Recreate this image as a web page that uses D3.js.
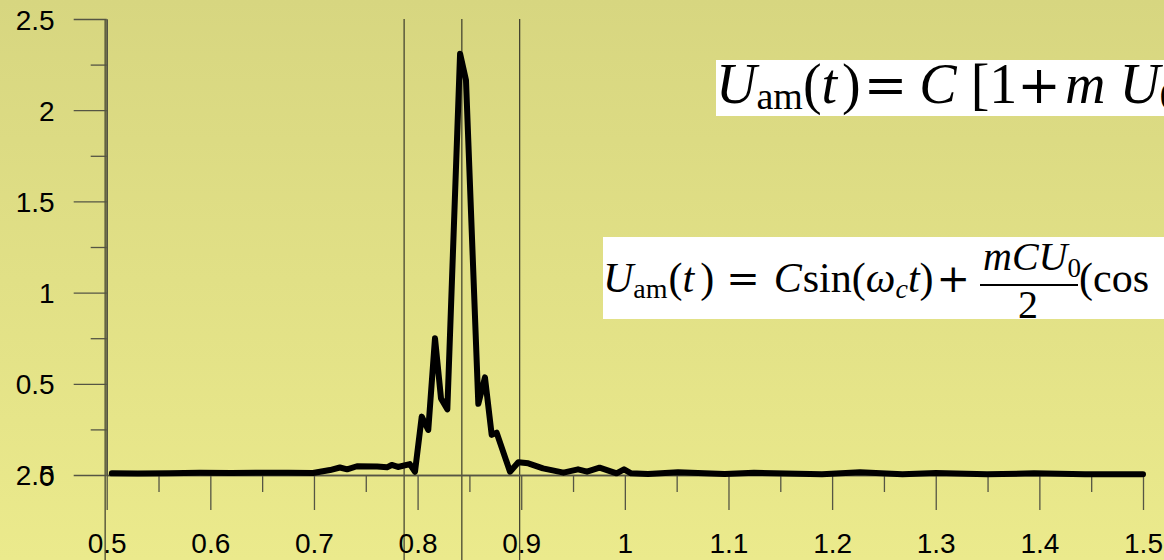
<!DOCTYPE html>
<html>
<head>
<meta charset="utf-8">
<script src="https://cdn.jsdelivr.net/npm/d3@7"></script>
<style>
  html, body { margin: 0; padding: 0; overflow: hidden; }
  .tick text { font-family: "Liberation Sans", Arial, sans-serif; fill: #000; }
  .formula { font-family: "Liberation Serif", "Times New Roman", serif; fill: #000; }
  .op { font-family: "DejaVu Serif", serif; }
</style>
</head>
<body>
<div id="app"></div>
<script>
// Curve samples: t and amplitude
const tValues = [0.505, 0.53, 0.56, 0.59, 0.62, 0.65, 0.675, 0.699, 0.7155, 0.725, 0.732, 0.7415,
  0.761, 0.7705, 0.775, 0.781, 0.7925, 0.7975, 0.804, 0.8103, 0.8168, 0.8226, 0.8287, 0.841,
  0.8467, 0.8586, 0.865, 0.8715, 0.8763, 0.8892, 0.8972, 0.9068, 0.921, 0.9408, 0.9548, 0.9635,
  0.9756, 0.992, 0.9992, 1.006, 1.0223, 1.0513, 1.0963, 1.1246, 1.1902, 1.2269, 1.2679, 1.3002,
  1.3495, 1.3948, 1.444, 1.5];
const ampValues = [0.009, 0.008, 0.01, 0.012, 0.011, 0.013, 0.012, 0.011, 0.027, 0.041, 0.031, 0.048,
  0.046, 0.042, 0.055, 0.044, 0.06, 0.018, 0.32, 0.247, 0.75, 0.42, 0.36, 2.31,
  2.165, 0.39, 0.535, 0.22, 0.232, 0.018, 0.07, 0.064, 0.036, 0.013, 0.031, 0.018,
  0.04, 0.009, 0.031, 0.009, 0.005, 0.015, 0.005, 0.012, 0.004, 0.015, 0.004, 0.011,
  0.004, 0.009, 0.004, 0.004];

// vertical marker lines
const markerLines = [0.4985, 0.787, 0.8427, 0.8985];

const xMajor = [0.5, 0.6, 0.7, 0.8, 0.9, 1, 1.1, 1.2, 1.3, 1.4, 1.5];
const xMinor = [0.55, 0.65, 0.75, 0.85, 0.95, 1.05, 1.15, 1.25, 1.35, 1.45];
const xLabels = ['0.5', '0.6', '0.7', '0.8', '0.9', '1', '1.1', '1.2', '1.3', '1.4', '1.5'];
const yMajor = [0, 0.5, 1, 1.5, 2, 2.5];
const yMinor = [0.25, 0.75, 1.25, 1.75, 2.25];
const yLabels = ['0', '0.5', '1', '1.5', '2', '2.5'];

const width = 1164, height = 560;

const x = d3.scaleLinear().domain([0.5, 1.5]).range([106.7, 1143]);
const y = d3.scaleLinear().domain([0, 2.5]).range([475, 19]);

const svg = d3.select('#app').append('svg')
    .attr('width', width)
    .attr('height', height);

// background gradient
const grad = svg.append('defs').append('linearGradient')
    .attr('id', 'bg')
    .attr('x1', 0).attr('y1', 0).attr('x2', 0).attr('y2', 1);
grad.append('stop').attr('offset', '0%').attr('stop-color', '#d7d680');
grad.append('stop').attr('offset', '100%').attr('stop-color', '#ebea8c');

svg.append('rect')
    .attr('width', width)
    .attr('height', height)
    .attr('fill', 'url(#bg)');

// formula: parts are [text, size, italic, dx, dy, operator]
function formulaText(px, py, parts) {
    const t = svg.append('text').attr('class', 'formula')
        .attr('x', px).attr('y', py);
    parts.forEach(p => {
        t.append('tspan')
            .attr('class', p[5] ? 'op' : null)
            .attr('dx', p[3] || 0)
            .attr('dy', p[4] || 0)
            .style('font-size', p[1] + 'px')
            .style('font-style', p[2] ? 'italic' : 'normal')
            .text(p[0]);
    });
    return t;
}

svg.append('rect')
    .attr('x', 716).attr('y', 60).attr('width', 460).attr('height', 56)
    .attr('fill', '#fff');
formulaText(716, 103, [
    ['U', 56, true], ['am', 38, false, 0, 6], ['(', 56, false, 0, -6],
    ['t', 56, true], [')', 56, false, 5], ['=', 52, false, 3, 0, true],
    ['C', 56, true, 12], ['[', 56, false, 14], ['1', 56, false, 0],
    ['+', 52, false, 0, 0, true], ['m', 56, true, 4], ['U', 56, true, 14],
    ['0', 38, false, 0, 6], ['cos(ω', 56, false, 4, -6], ['m', 38, true, 0, 6],
    ['t)] sin(ω', 56, false, 0, -6]
]);

svg.append('rect')
    .attr('x', 603).attr('y', 237).attr('width', 561).attr('height', 82)
    .attr('fill', '#fff');
formulaText(603, 292, [
    ['U', 42, true], ['am', 28, false, 0, 6], ['(', 42, false, 1, -6],
    ['t', 42, true], [')', 42, false, 6], ['=', 40, false, 12, 0, true],
    ['C', 42, true, 14], ['sin', 42, false, 1], ['(', 42, false, 0],
    ['ω', 42, true], ['c', 28, true, 0, 6], ['t', 42, true, 0, -6],
    [')', 42, false], ['+', 40, false, 3, 0, true]
]);
formulaText(983, 270, [
    ['m', 40, true], ['C', 40, true], ['U', 40, true], ['0', 27, false, 0, 7]
]);
formulaText(1018, 318, [['2', 40, false]]);
formulaText(1079, 292, [['(', 42, false], ['cos', 42, false]]);
svg.append('line')
    .attr('x1', 980).attr('x2', 1078)
    .attr('y1', 285).attr('y2', 285)
    .attr('stroke', '#000').attr('stroke-width', 2);

// vertical marker lines
svg.selectAll('.marker')
    .data(markerLines)
    .enter().append('line')
    .attr('class', 'marker')
    .attr('x1', d => x(d)).attr('x2', d => x(d))
    .attr('y1', 19).attr('y2', height)
    .attr('stroke', '#3a3a2a')
    .attr('stroke-width', 1.2);

// axes
const axisColor = '#555544';

const yAxis = svg.append('g')
    .attr('transform', 'translate(106.7,0)')
    .call(d3.axisLeft(y).tickValues(yMajor).tickSize(33).tickSizeOuter(0)
        .tickPadding(19).tickFormat((d, i) => yLabels[i]));
svg.append('g')
    .attr('transform', 'translate(106.7,0)')
    .call(d3.axisLeft(y).tickValues(yMinor).tickSize(16).tickSizeOuter(0).tickFormat(''));

const xAxis = svg.append('g')
    .attr('transform', 'translate(0,475)')
    .call(d3.axisBottom(x).tickValues(xMajor).tickSize(35).tickSizeOuter(0)
        .tickPadding(23).tickFormat((d, i) => xLabels[i]));
svg.append('g')
    .attr('transform', 'translate(0,475)')
    .call(d3.axisBottom(x).tickValues(xMinor).tickSize(17).tickSizeOuter(0).tickFormat(''));

svg.selectAll('.domain').attr('stroke', axisColor).attr('stroke-width', 1.5);
svg.selectAll('.tick line').attr('stroke', axisColor).attr('stroke-width', 1.3);
yAxis.selectAll('text').style('font-size', '28px').attr('dy', '0.36em');
xAxis.selectAll('text').style('font-size', '28px');

// second label stacked on the zero tick
yAxis.append('text')
    .attr('x', -52)
    .attr('y', y(0))
    .attr('dy', '0.36em')
    .attr('text-anchor', 'end')
    .attr('fill', '#000')
    .style('font-family', '"Liberation Sans", Arial, sans-serif')
    .style('font-size', '28px')
    .text('2.5');

// curve
const line = d3.line()
    .x((d, i) => x(tValues[i]))
    .y(d => y(d));

svg.append('path')
    .datum(ampValues)
    .attr('d', line)
    .attr('fill', 'none')
    .attr('stroke', '#000')
    .attr('stroke-width', 6)
    .attr('stroke-linejoin', 'round')
    .attr('stroke-linecap', 'round');
</script>
</body>
</html>
